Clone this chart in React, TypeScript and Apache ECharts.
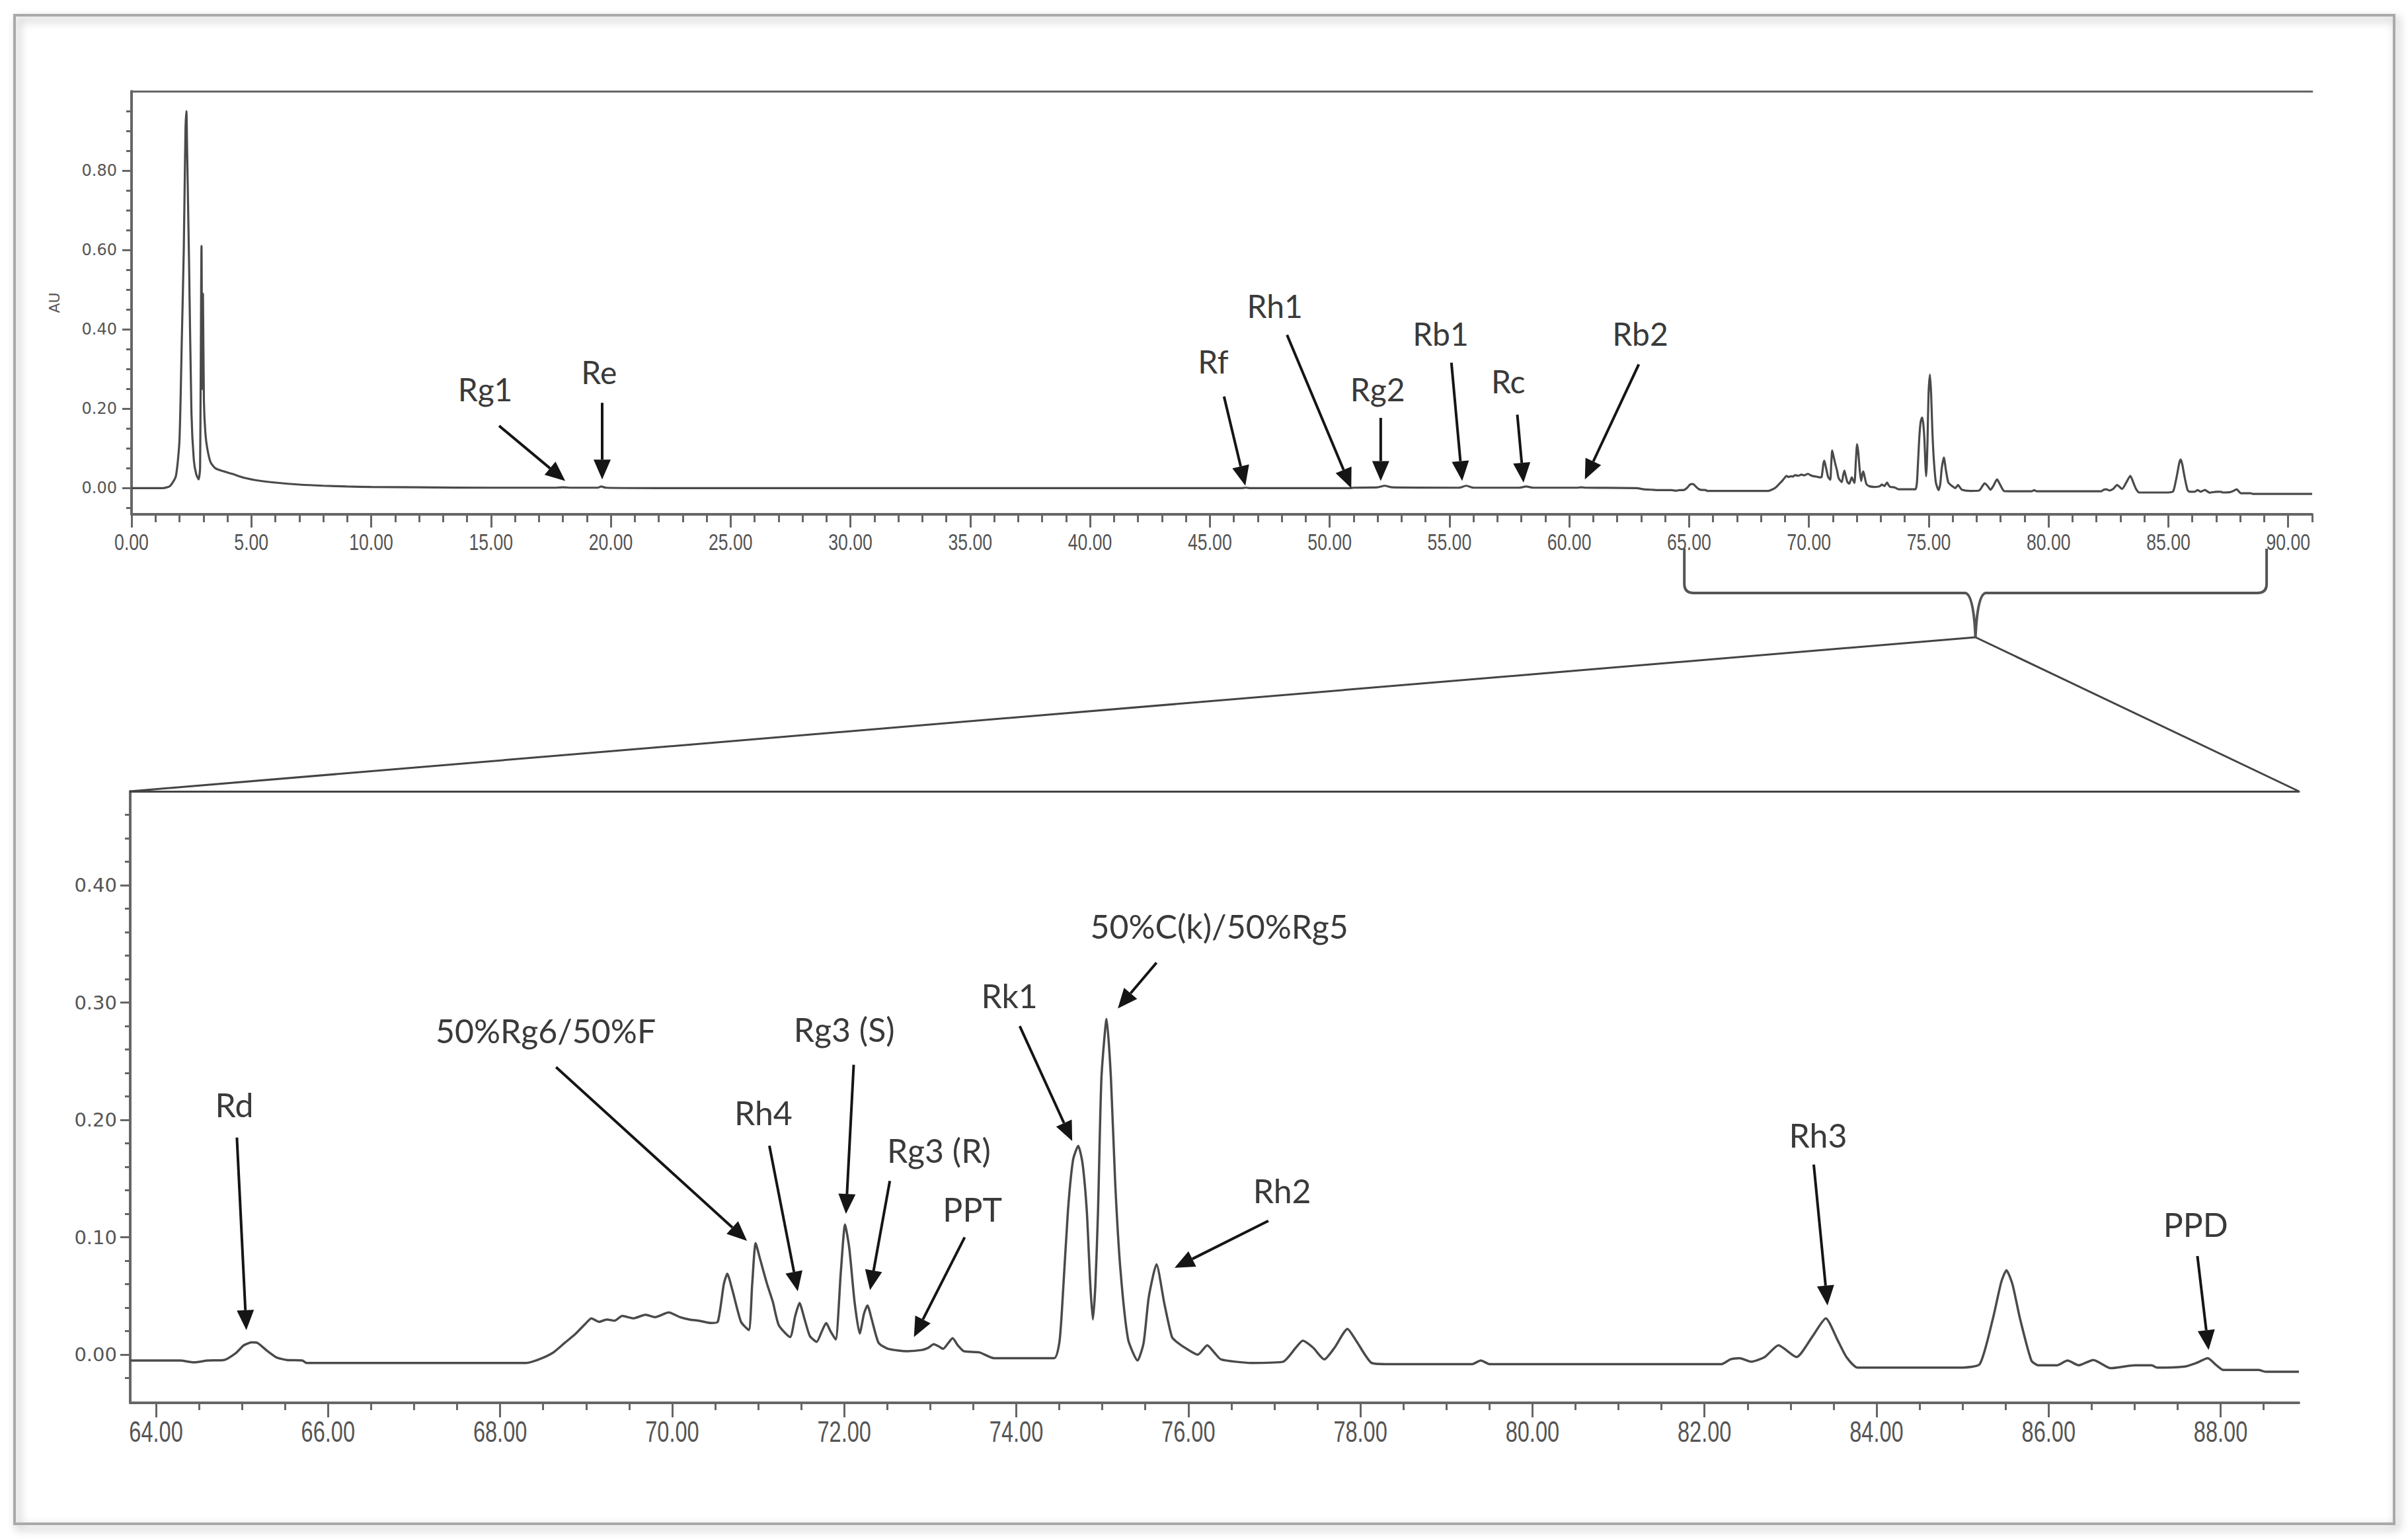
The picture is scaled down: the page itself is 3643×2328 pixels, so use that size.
import React, { useEffect, useRef } from "react";
import * as echarts from "echarts";

// ---------- data ----------
// early part of the run (top chromatogram only)
const earlyTime = [0, 1.3, 1.6, 1.85, 2.0, 2.1, 2.18, 2.25, 2.29, 2.32, 2.4, 2.5, 2.6, 2.7, 2.8, 2.86, 2.92, 2.95, 2.98, 3.02, 3.08, 3.16, 3.3, 3.5, 3.8, 4.2, 4.7, 5.3, 6.0, 7.0, 8.0, 9.0, 10.0, 12.0, 15.0, 17.6, 18.0, 18.4, 19.45, 19.6, 19.8, 22.0, 30.0, 40.0, 46.3, 46.5, 46.7, 50.8, 51.0, 52.0, 52.3, 52.6, 55.4, 55.7, 56.0, 57.9, 58.2, 58.5, 60.3, 60.5, 60.7, 62.8, 63.1, 63.4];
const earlyAU = [0, 0, 0.005, 0.03, 0.12, 0.38, 0.6, 0.9, 0.95, 0.85, 0.57, 0.19, 0.07, 0.035, 0.022, 0.05, 0.61, 0.25, 0.49, 0.22, 0.14, 0.1, 0.065, 0.05, 0.043, 0.036, 0.026, 0.019, 0.014, 0.009, 0.006, 0.004, 0.003, 0.002, 0.001, 0.001, 0.002, 0.001, 0.001, 0.004, 0.001, 0, 0, 0, 0, 0.001, 0, 0, 0.001, 0.002, 0.006, 0.002, 0.001, 0.006, 0.001, 0.001, 0.004, 0.001, 0.001, 0.002, 0.001, 0, -0.003, -0.004];

// zoomed part of the run (both chromatograms)
const zoomTime = [63.7, 64.28, 64.44, 64.6, 64.79, 64.93, 65.02, 65.11, 65.18, 65.29, 65.4, 65.52, 65.7, 65.75, 68.3, 68.45, 68.62, 68.75, 68.88, 69.0, 69.06, 69.15, 69.24, 69.33, 69.42, 69.55, 69.69, 69.8, 69.96, 70.09, 70.2, 70.31, 70.45, 70.53, 70.6, 70.64, 70.7, 70.8, 70.89, 70.93, 70.97, 71.02, 71.1, 71.17, 71.24, 71.37, 71.43, 71.48, 71.54, 71.6, 71.68, 71.74, 71.79, 71.84, 71.9, 71.96, 72.01, 72.06, 72.12, 72.18, 72.23, 72.27, 72.32, 72.4, 72.51, 72.73, 72.9, 72.98, 73.04, 73.1, 73.15, 73.21, 73.26, 73.32, 73.39, 73.57, 73.74, 74.44, 74.5, 74.53, 74.6, 74.66, 74.72, 74.77, 74.82, 74.86, 74.89, 74.92, 74.95, 74.99, 75.05, 75.1, 75.15, 75.21, 75.3, 75.41, 75.48, 75.54, 75.63, 75.72, 75.81, 75.88, 75.98, 76.11, 76.22, 76.3, 76.38, 76.73, 77.1, 77.25, 77.33, 77.45, 77.58, 77.7, 77.85, 77.95, 78.13, 78.3, 79.3, 79.4, 79.5, 82.2, 82.3, 82.41, 82.54, 82.7, 82.86, 83.07, 83.25, 83.41, 83.55, 83.65, 83.78, 85.0, 85.2, 85.35, 85.45, 85.51, 85.58, 85.67, 85.8, 85.88, 86.1, 86.22, 86.35, 86.52, 86.72, 87.0, 87.2, 87.26, 87.59, 87.72, 87.85, 87.95, 88.03, 88.44, 88.52, 88.91];
const zoomAU = [-0.005, -0.005, -0.0065, -0.005, -0.0045, 0.0015, 0.008, 0.0105, 0.01, 0.0034, -0.0023, -0.0045, -0.005, -0.007, -0.007, -0.004, 0.002, 0.01, 0.018, 0.027, 0.031, 0.028, 0.03, 0.029, 0.033, 0.031, 0.034, 0.032, 0.036, 0.032, 0.03, 0.029, 0.027, 0.028, 0.06, 0.069, 0.055, 0.028, 0.021, 0.06, 0.095, 0.082, 0.061, 0.045, 0.025, 0.015, 0.033, 0.044, 0.03, 0.016, 0.011, 0.02, 0.027, 0.02, 0.013, 0.07, 0.111, 0.09, 0.045, 0.018, 0.035, 0.042, 0.03, 0.01, 0.005, 0.003, 0.004, 0.006, 0.009, 0.007, 0.005, 0.01, 0.014, 0.008, 0.003, 0.002, -0.003, -0.003, 0.01, 0.037, 0.122, 0.166, 0.178, 0.163, 0.122, 0.06, 0.03, 0.06, 0.122, 0.236, 0.286, 0.236, 0.146, 0.073, 0.013, -0.005, 0.01, 0.049, 0.077, 0.044, 0.015, 0.01, 0.005, 0.0, 0.008, 0.002, -0.004, -0.007, -0.006, 0.006, 0.012, 0.006, -0.004, 0.006, 0.022, 0.012, -0.007, -0.008, -0.008, -0.005, -0.008, -0.008, -0.004, -0.003, -0.006, -0.002, 0.008, -0.002, 0.015, 0.031, 0.012, -0.002, -0.011, -0.011, -0.008, 0.03, 0.062, 0.072, 0.06, 0.03, -0.005, -0.009, -0.009, -0.005, -0.009, -0.0045, -0.0115, -0.009, -0.009, -0.011, -0.01, -0.007, -0.003, -0.009, -0.013, -0.013, -0.0145, -0.0145];

// end of the run (top chromatogram only)
const tailTime = [91.0];
const tailAU = [-0.0145];

// tick labels
const topXTicks = [0, 5, 10, 15, 20, 25, 30, 35, 40, 45, 50, 55, 60, 65, 70, 75, 80, 85, 90];
const topYTicks = [0, 0.2, 0.4, 0.6, 0.8];
const bottomXTicks = [64, 66, 68, 70, 72, 74, 76, 78, 80, 82, 84, 86, 88];
const bottomYTicks = [0, 0.1, 0.2, 0.3, 0.4];

// peak annotations (data coordinates: label centre, arrow tail, arrow tip)
const topNames = ["Rg1", "Re", "Rf", "Rh1", "Rg2", "Rb1", "Rc", "Rb2"];
const topLabelAt = [[14.76, 0.25], [19.51, 0.293], [45.14, 0.32], [47.71, 0.459], [52.0, 0.25], [54.63, 0.39], [57.45, 0.27], [62.96, 0.39]];
const topTailAt = [[15.34, 0.157], [19.64, 0.215], [45.59, 0.231], [48.22, 0.386], [52.13, 0.177], [55.08, 0.316], [57.83, 0.185], [62.9, 0.312]];
const topTipAt = [[18.1, 0.018], [19.64, 0.022], [46.48, 0.006], [50.9, 0.0], [52.13, 0.018], [55.53, 0.018], [58.09, 0.014], [60.65, 0.022]];

const bottomNames = ["Rd", "50%Rg6/50%F", "Rh4", "Rg3 (S)", "Rg3 (R)", "PPT", "Rk1", "50%C(k)/50%Rg5", "Rh2", "Rh3", "PPD"];
const bottomLabelAt = [[64.91, 0.213], [68.53, 0.276], [71.06, 0.206], [72.0, 0.277], [73.1, 0.174], [73.49, 0.124], [73.92, 0.306], [76.36, 0.365], [77.09, 0.14], [83.32, 0.187], [87.71, 0.111]];
const bottomTailAt = [[64.94, 0.185], [68.65, 0.245], [71.13, 0.178], [72.11, 0.247], [72.53, 0.148], [73.4, 0.1], [74.04, 0.28], [75.63, 0.334], [76.93, 0.114], [83.27, 0.162], [87.73, 0.084]];
const bottomTipAt = [[65.05, 0.021], [70.87, 0.097], [71.46, 0.054], [72.02, 0.12], [72.3, 0.055], [72.81, 0.015], [74.65, 0.182], [75.18, 0.295], [75.84, 0.074], [83.43, 0.042], [87.86, 0.004]];

// bracket on the top axis marking the zoomed range
const bracketRange = [64.8, 89.1];

const W = 3643;
const H = 2328;

const AXIS = "#666";
const CURVE = "#4a4a4a";
const NARROW = '"Liberation Sans",Arial,sans-serif';
const WIDE = '"DejaVu Sans",Verdana,sans-serif';
const ANNO = 'Lato,"Open Sans",sans-serif';

const fmt2 = (v: number) => Number(v).toFixed(2);

function range(a: number, b: number) {
  const r: number[] = [];
  for (let i = a; i <= b; i++) r.push(i);
  return r;
}

export default function App() {
  const ref = useRef<HTMLDivElement>(null);

  useEffect(() => {
    const el = ref.current!;
    const chart = echarts.init(el, null, { renderer: "svg" });

    const pair = (ts: number[], vs: number[]) => ts.map((t, i) => [t, vs[i]]);
    const topData = [...pair(earlyTime, earlyAU), ...pair(zoomTime, zoomAU), ...pair(tailTime, tailAU)];
    const bottomData = pair(zoomTime, zoomAU);

    const topXMinor = range(0, 91).filter((i) => i % 5 !== 0);
    const topYMinor = range(-1, 19).filter((k) => k % 4 !== 0).map((k) => +(k * 0.05).toFixed(3));
    const bottomXMinor = range(128, 177).filter((k) => k % 4 !== 0).map((k) => k * 0.5);
    const bottomYMinor = range(-1, 23).filter((k) => k % 5 !== 0).map((k) => +(k * 0.02).toFixed(3));

    const topXMin = 0, topXMax = 91, topYMin = -0.066, topYMax = 1.0;
    const botXMin = 63.7, botXMax = 88.91, botYMin = -0.041, botYMax = 0.48;

    const lineStyle = (w: number) => ({ color: AXIS, width: w });

    const option: any = {
      animation: false,
      backgroundColor: "#ffffff",
      grid: [
        { left: 199, top: 138, width: 3299, height: 640, outerBoundsMode: "none", containLabel: false },
        { left: 197, top: 1197, width: 3281, height: 925, outerBoundsMode: "none", containLabel: false },
      ],
      xAxis: [
        // 0 top main (labels drawn condensed below)
        {
          gridIndex: 0, type: "value", position: "bottom", min: topXMin, max: topXMax,
          axisLine: { show: true, onZero: false, lineStyle: lineStyle(4) },
          axisTick: { show: true, customValues: topXTicks, length: 20, lineStyle: lineStyle(3) },
          axisLabel: { show: false },
          splitLine: { show: false },
        },
        // 1 top minor
        {
          gridIndex: 0, type: "value", position: "bottom", min: topXMin, max: topXMax,
          axisLine: { show: false, onZero: false },
          axisTick: { show: true, customValues: topXMinor, length: 12, lineStyle: lineStyle(3) },
          axisLabel: { show: false },
          splitLine: { show: false },
        },
        // 2 top border
        {
          gridIndex: 0, type: "value", position: "top", min: topXMin, max: topXMax,
          axisLine: { show: true, onZero: false, lineStyle: lineStyle(3) },
          axisTick: { show: false }, axisLabel: { show: false }, splitLine: { show: false },
        },
        // 3 bottom main (labels drawn condensed below)
        {
          gridIndex: 1, type: "value", position: "bottom", min: botXMin, max: botXMax,
          axisLine: { show: true, onZero: false, lineStyle: lineStyle(4) },
          axisTick: { show: true, customValues: bottomXTicks, length: 22, lineStyle: lineStyle(3) },
          axisLabel: { show: false },
          splitLine: { show: false },
        },
        // 4 bottom minor
        {
          gridIndex: 1, type: "value", position: "bottom", min: botXMin, max: botXMax,
          axisLine: { show: false, onZero: false },
          axisTick: { show: true, customValues: bottomXMinor, length: 11, lineStyle: lineStyle(3) },
          axisLabel: { show: false },
          splitLine: { show: false },
        },
        // 5 bottom border
        {
          gridIndex: 1, type: "value", position: "top", min: botXMin, max: botXMax,
          axisLine: { show: true, onZero: false, lineStyle: { color: "#444", width: 3 } },
          axisTick: { show: false }, axisLabel: { show: false }, splitLine: { show: false },
        },
      ],
      yAxis: [
        // 0 top main
        {
          gridIndex: 0, type: "value", position: "left", min: topYMin, max: topYMax,
          name: "AU", nameLocation: "middle", nameGap: 106, nameRotate: 90,
          nameTextStyle: { fontFamily: WIDE, fontSize: 22, color: "#555" },
          axisLine: { show: true, onZero: false, lineStyle: lineStyle(4) },
          axisTick: { show: true, customValues: topYTicks, length: 14, lineStyle: lineStyle(3) },
          axisLabel: { show: true, customValues: topYTicks, formatter: fmt2, fontFamily: WIDE, fontSize: 24, color: "#555", margin: 22 },
          splitLine: { show: false },
        },
        // 1 top minor
        {
          gridIndex: 0, type: "value", position: "left", min: topYMin, max: topYMax,
          axisLine: { show: false, onZero: false },
          axisTick: { show: true, customValues: topYMinor, length: 8, lineStyle: lineStyle(3) },
          axisLabel: { show: false },
          splitLine: { show: false },
        },
        // 2 bottom main
        {
          gridIndex: 1, type: "value", position: "left", min: botYMin, max: botYMax,
          axisLine: { show: true, onZero: false, lineStyle: lineStyle(4) },
          axisTick: { show: true, customValues: bottomYTicks, length: 15, lineStyle: lineStyle(3) },
          axisLabel: { show: true, customValues: bottomYTicks, formatter: fmt2, fontFamily: WIDE, fontSize: 29, color: "#555", margin: 20 },
          splitLine: { show: false },
        },
        // 3 bottom minor
        {
          gridIndex: 1, type: "value", position: "left", min: botYMin, max: botYMax,
          axisLine: { show: false, onZero: false },
          axisTick: { show: true, customValues: bottomYMinor, length: 8, lineStyle: lineStyle(3) },
          axisLabel: { show: false },
          splitLine: { show: false },
        },
      ],
      series: [
        {
          type: "line", xAxisIndex: 0, yAxisIndex: 0, data: topData,
          showSymbol: false, symbol: "none", smooth: 0.2, silent: true,
          lineStyle: { color: CURVE, width: 3.2 }, z: 3,
        },
        {
          type: "line", xAxisIndex: 3, yAxisIndex: 2, data: bottomData,
          showSymbol: false, symbol: "none", smooth: 0.2, silent: true,
          lineStyle: { color: CURVE, width: 3.5 }, z: 3,
        },
      ],
    };

    chart.setOption(option);

    const toTop = (p: number[]) => chart.convertToPixel({ xAxisIndex: 0, yAxisIndex: 0 }, p) as number[];
    const toBot = (p: number[]) => chart.convertToPixel({ xAxisIndex: 3, yAxisIndex: 2 }, p) as number[];

    const g: any[] = [];

    // outer frame with drop shadow
    g.push({
      type: "rect", z: -5, silent: true,
      shape: { x: 22, y: 23, width: 3600, height: 2282 },
      style: { fill: "none", stroke: "#a9a9a9", lineWidth: 4, shadowBlur: 14, shadowColor: "rgba(0,0,0,0.35)", shadowOffsetX: 5, shadowOffsetY: 6 },
    });

    // condensed x-axis tick labels
    const topAxisY = toTop([0, topYMin])[1];
    const botAxisY = toBot([botXMin, botYMin])[1];
    topXTicks.forEach((t) => {
      g.push({
        type: "text", z: 5, silent: true, x: toTop([t, 0])[0], y: topAxisY + 41, scaleX: 0.74,
        style: { text: fmt2(t), fontFamily: NARROW, fontSize: 36, fill: "#555", align: "center", verticalAlign: "middle" },
      });
    });
    bottomXTicks.forEach((t) => {
      g.push({
        type: "text", z: 5, silent: true, x: toBot([t, 0])[0], y: botAxisY + 44, scaleX: 0.74,
        style: { text: fmt2(t), fontFamily: NARROW, fontSize: 44, fill: "#555", align: "center", verticalAlign: "middle" },
      });
    });

    const arrow = (tail: number[], tip: number[]) => {
      const dx = tip[0] - tail[0];
      const dy = tip[1] - tail[1];
      const len = Math.hypot(dx, dy) || 1;
      const ux = dx / len, uy = dy / len;
      const hl = 30, hw = 13;
      const bx = tip[0] - ux * hl, by = tip[1] - uy * hl;
      const px = -uy, py = ux;
      g.push({
        type: "line", z: 20, silent: true,
        shape: { x1: tail[0], y1: tail[1], x2: bx, y2: by },
        style: { stroke: "#151515", lineWidth: 4 },
      });
      g.push({
        type: "polygon", z: 20, silent: true,
        shape: { points: [[tip[0], tip[1]], [bx + px * hw, by + py * hw], [bx - px * hw, by - py * hw]] },
        style: { fill: "#151515" },
      });
    };

    const label = (p: number[], text: string, size: number) => {
      g.push({
        type: "text", z: 20, silent: true, x: p[0], y: p[1],
        style: { text, fontFamily: ANNO, fontSize: size, fill: "#3a3a3a", align: "center", verticalAlign: "middle" },
      });
    };

    topNames.forEach((n, i) => {
      label(toTop(topLabelAt[i]), n, 48);
      arrow(toTop(topTailAt[i]), toTop(topTipAt[i]));
    });
    bottomNames.forEach((n, i) => {
      label(toBot(bottomLabelAt[i]), n, 50);
      arrow(toBot(bottomTailAt[i]), toBot(bottomTipAt[i]));
    });

    // bracket under the top axis
    const L = toTop([bracketRange[0], 0])[0];
    const R = toTop([bracketRange[1], 0])[0];
    const C = (L + R) / 2;
    const T = topAxisY + 52;
    const Hh = topAxisY + 119;
    const P = topAxisY + 186;
    const d =
      `M${L},${T} L${L},${Hh - 14} Q${L},${Hh} ${L + 14},${Hh} L${C - 16},${Hh} Q${C - 3},${Hh} ${C},${P} ` +
      `Q${C + 3},${Hh} ${C + 16},${Hh} L${R - 14},${Hh} Q${R},${Hh} ${R},${Hh - 14} L${R},${T}`;
    echarts.graphic.registerShape("zoomBracket", echarts.graphic.extendPath(d, {}) as any);
    g.push({
      type: "zoomBracket", x: 0, y: 0, z: 10, silent: true,
      style: { fill: "none", stroke: "#555", lineWidth: 4 },
    });

    // lines from bracket tip to the zoomed chart
    const tl = toBot([botXMin, botYMax]);
    const tr = toBot([botXMax, botYMax]);
    g.push({ type: "line", z: 10, silent: true, shape: { x1: C, y1: P, x2: tl[0], y2: tl[1] }, style: { stroke: "#444", lineWidth: 3 } });
    g.push({ type: "line", z: 10, silent: true, shape: { x1: C, y1: P, x2: tr[0], y2: tr[1] }, style: { stroke: "#444", lineWidth: 3 } });

    chart.setOption({ graphic: { elements: g } });

    return () => chart.dispose();
  }, []);

  return (
    <div
      ref={ref}
      style={{ position: "absolute", left: 0, top: 0, width: W, height: H, background: "#fff" }}
    />
  );
}
